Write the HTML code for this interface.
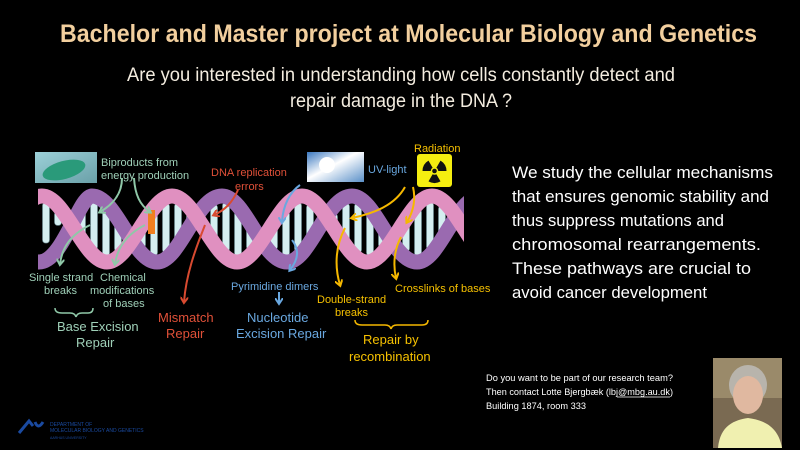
<!DOCTYPE html>
<html><head><meta charset="utf-8"><style>
html,body{margin:0;padding:0;background:#000;width:800px;height:450px;overflow:hidden}
svg{display:block}
text{font-family:"Liberation Sans",sans-serif}
</style></head><body>
<svg id="s" width="800" height="450" viewBox="0 0 800 450" xmlns="http://www.w3.org/2000/svg">
<defs>
<marker id="mg" markerWidth="8" markerHeight="8" refX="5" refY="4" orient="auto" markerUnits="userSpaceOnUse"><path d="M0,0 L6,4 L0,8" fill="none" stroke="#8fc8a8" stroke-width="2"/></marker>
<marker id="mr" markerWidth="8" markerHeight="8" refX="5" refY="4" orient="auto" markerUnits="userSpaceOnUse"><path d="M0,0 L6,4 L0,8" fill="none" stroke="#d84a30" stroke-width="2"/></marker>
<marker id="mb" markerWidth="8" markerHeight="8" refX="5" refY="4" orient="auto" markerUnits="userSpaceOnUse"><path d="M0,0 L6,4 L0,8" fill="none" stroke="#6aa8e0" stroke-width="2"/></marker>
<marker id="my" markerWidth="8" markerHeight="8" refX="5" refY="4" orient="auto" markerUnits="userSpaceOnUse"><path d="M0,0 L6,4 L0,8" fill="none" stroke="#f5b800" stroke-width="2"/></marker>
<clipPath id="hc"><rect x="38" y="180" width="426" height="100"/></clipPath>
<linearGradient id="sky" x1="0" y1="0" x2="1" y2="1"><stop offset="0" stop-color="#3a78c0"/><stop offset="0.45" stop-color="#fff"/><stop offset="1" stop-color="#5a90c8"/></linearGradient>
<linearGradient id="mito" x1="0" y1="0" x2="1" y2="1"><stop offset="0" stop-color="#9cd0d8"/><stop offset="1" stop-color="#6aa0a8"/></linearGradient>
</defs>

<text x="60" y="42" font-size="25" font-weight="bold" fill="#f2cf9e" textLength="697" lengthAdjust="spacingAndGlyphs">Bachelor and Master project at Molecular Biology and Genetics</text>
<text x="127" y="81" font-size="19" fill="#f4ede0" textLength="548" lengthAdjust="spacingAndGlyphs">Are you interested in understanding how cells constantly detect and</text>
<text x="290" y="107" font-size="19" fill="#f4ede0" textLength="222" lengthAdjust="spacingAndGlyphs">repair damage in the DNA ?</text>

<g font-size="17" fill="#fff">
<text x="512" y="178" textLength="261" lengthAdjust="spacingAndGlyphs">We study the cellular mechanisms</text>
<text x="512" y="202" textLength="257" lengthAdjust="spacingAndGlyphs">that ensures genomic stability and</text>
<text x="512" y="226" textLength="212" lengthAdjust="spacingAndGlyphs">thus suppress mutations and</text>
<text x="512" y="250" textLength="249" lengthAdjust="spacingAndGlyphs">chromosomal rearrangements.</text>
<text x="512" y="274" textLength="239" lengthAdjust="spacingAndGlyphs">These pathways are crucial to</text>
<text x="512" y="298" textLength="195" lengthAdjust="spacingAndGlyphs">avoid cancer development</text>
</g>

<!-- images -->
<rect x="35" y="152" width="62" height="31" fill="url(#mito)"/>
<ellipse cx="64" cy="170" rx="22" ry="9" fill="#2a9a7a" transform="rotate(-15 64 170)"/>
<rect x="307" y="152" width="57" height="30" fill="url(#sky)"/>
<circle cx="327" cy="165" r="8" fill="#fff"/>
<rect x="417" y="154" width="35" height="33" rx="3" fill="#f5ee10"/>
<g fill="#111">
<path d="M434.5,171 L422.5,171 A12,12 0 0 1 428.5,160.6 Z"/>
<path d="M434.5,171 L440.5,160.6 A12,12 0 0 1 446.5,171 Z"/>
<path d="M434.5,171 L440.5,181.4 A12,12 0 0 1 428.5,181.4 Z"/>
</g>
<circle cx="434.5" cy="171" r="3.8" fill="#f5ee10"/><circle cx="434.5" cy="171" r="2.3" fill="#111"/>

<!-- helix -->
<g clip-path="url(#hc)">
<g id="rungs"></g>
<path d="M-23,196 C0,196 16,262 39,262 C63,262 79,196 92,196 C116,196 133,262 157,262 C180,262 196,196 222,196 C245,196 262,262 287,262 C310,262 326,196 352,196 C375,196 392,262 417,262 C440,262 456,196 482,196" fill="none" stroke="#9a6ab0" stroke-width="15"/>
<path d="M-23,262 C0,262 19,196 42,196 C65,196 84,262 107,262 C130,262 149,196 172,196 C195,196 214,262 237,262 C260,262 279,196 302,196 C325,196 344,262 367,262 C390,262 409,196 432,196 C455,196 474,262 497,262" fill="none" stroke="#e090c0" stroke-width="15"/>
<rect x="148" y="210" width="7" height="24" fill="#f08020"/>
</g>

<!-- arrows -->
<g fill="none" stroke-width="2">
<path d="M122,178 C122,195 112,205 100,212" stroke="#8fc8a8" marker-end="url(#mg)"/>
<path d="M134,178 C135,195 140,205 150,212" stroke="#8fc8a8" marker-end="url(#mg)"/>
<path d="M90,225 C70,235 62,248 60,264" stroke="#8fc8a8" marker-end="url(#mg)"/>
<path d="M145,225 C125,235 117,250 115,264" stroke="#8fc8a8" marker-end="url(#mg)"/>
<path d="M238,190 C232,203 225,210 214,215" stroke="#d84a30" marker-end="url(#mr)"/>
<path d="M205,225 C195,250 186,275 184,302" stroke="#d84a30" marker-end="url(#mr)"/>
<path d="M300,185 C290,192 283,205 282,222" stroke="#6aa8e0" marker-end="url(#mb)"/>
<path d="M292,240 C300,250 298,260 290,270" stroke="#6aa8e0" marker-end="url(#mb)"/>
<path d="M279,292 L279,303" stroke="#6aa8e0" marker-end="url(#mb)"/>
<path d="M405,187 C395,205 375,213 352,218" stroke="#f5b800" marker-end="url(#my)"/>
<path d="M413,187 C416,200 413,212 407,222" stroke="#f5b800" marker-end="url(#my)"/>
<path d="M345,228 C336,245 334,265 340,285" stroke="#f5b800" marker-end="url(#my)"/>
<path d="M401,237 C394,250 393,265 396,278" stroke="#f5b800" marker-end="url(#my)"/>
<path d="M55,308 Q55,313 62,313 L70,313 Q75,313 76,317 Q77,313 82,313 L88,313 Q93,313 93,308" stroke="#8fc8a8" stroke-width="1.5"/>
<path d="M355,320 Q355,325 362,325 L385,325 Q390,325 391,329 Q392,325 397,325 L422,325 Q428,325 428,320" stroke="#f5b800" stroke-width="1.5"/>
</g>

<!-- labels -->
<g font-size="11">
<text x="101" y="166" fill="#9fd0b8">Biproducts from</text>
<text x="101" y="179" fill="#9fd0b8">energy production</text>
<text x="211" y="176" fill="#e05038">DNA replication</text>
<text x="235" y="190" fill="#e05038">errors</text>
<text x="368" y="173" fill="#6aa8e0">UV-light</text>
<text x="414" y="152" fill="#f5c000">Radiation</text>
<text x="29" y="281" fill="#9fd0b8">Single strand</text>
<text x="44" y="294" fill="#9fd0b8">breaks</text>
<text x="100" y="281" fill="#9fd0b8">Chemical</text>
<text x="90" y="294" fill="#9fd0b8">modifications</text>
<text x="103" y="307" fill="#9fd0b8">of bases</text>
<text x="231" y="290" fill="#6aa8e0">Pyrimidine dimers</text>
<text x="317" y="303" fill="#f5c000">Double-strand</text>
<text x="335" y="316" fill="#f5c000">breaks</text>
<text x="395" y="292" fill="#f5c000">Crosslinks of bases</text>
</g>
<g font-size="13">
<text x="57" y="331" fill="#9fd0b8">Base Excision</text>
<text x="76" y="347" fill="#9fd0b8">Repair</text>
<text x="158" y="322" fill="#e05038">Mismatch</text>
<text x="166" y="338" fill="#e05038">Repair</text>
<text x="247" y="322" fill="#6aa8e0">Nucleotide</text>
<text x="236" y="338" fill="#6aa8e0">Excision Repair</text>
<text x="363" y="344" fill="#f5c000">Repair by</text>
<text x="349" y="361" fill="#f5c000">recombination</text>
</g>

<g font-size="9.5" fill="#fff">
<text x="486" y="381" textLength="187" lengthAdjust="spacingAndGlyphs">Do you want to be part of our research team?</text>
<text x="486" y="395" textLength="187" lengthAdjust="spacingAndGlyphs">Then contact Lotte Bjergbæk (lbj@mbg.au.dk)</text>
<line x1="617" y1="397" x2="670" y2="397" stroke="#fff" stroke-width="0.7"/>
<text x="486" y="409" textLength="100" lengthAdjust="spacingAndGlyphs">Building 1874, room 333</text>
</g>

<!-- photo -->
<rect x="713" y="358" width="69" height="90" fill="#7a6a52"/>
<rect x="713" y="358" width="69" height="40" fill="#9a8a6a"/>
<ellipse cx="748" cy="385" rx="19" ry="20" fill="#b8b4ac"/>
<ellipse cx="748" cy="395" rx="15" ry="19" fill="#e0b8a0"/>
<path d="M718,448 C720,425 735,420 748,418 C762,420 778,425 782,448Z" fill="#f0f0b0"/>

<!-- logo -->
<path d="M19,433 L29,421 L33,426" fill="none" stroke="#1a4aa0" stroke-width="3"/>
<path d="M35,422 Q38,430 43,422" fill="none" stroke="#1a4aa0" stroke-width="3"/>
<text x="50" y="426" font-size="5" fill="#1a4aa0">DEPARTMENT OF</text>
<text x="50" y="432" font-size="5" fill="#1a4aa0">MOLECULAR BIOLOGY AND GENETICS</text>
<text x="50" y="439" font-size="3.5" fill="#1a4aa0">AARHUS UNIVERSITY</text>
</svg>
<script>
(function(){
var g=document.getElementById('rungs'),h='';
function pk(x){return 229-33*Math.cos(2*Math.PI*(x-42)/130);}
function pu(x){return 229-33*Math.cos(2*Math.PI*(x-92)/130);}
for(var x=46;x<464;x+=12){var a=pk(x),b=pu(x),t=Math.min(a,b)+6,bt=Math.max(a,b)-6;
if(bt-t>6){h+='<rect x="'+(x-3.5)+'" y="'+t+'" width="7" height="'+(bt-t)+'" rx="3" fill="#d4eef0" stroke="#6a8a90" stroke-width="0.6"/>';}}
g.innerHTML=h;})();
</script>
</body></html>
